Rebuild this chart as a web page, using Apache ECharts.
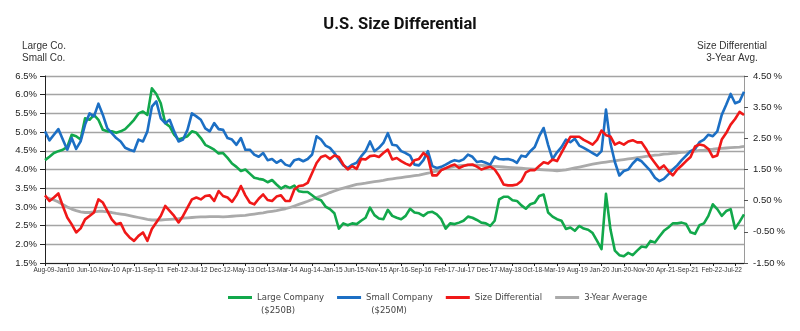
<!DOCTYPE html>
<html>
<head>
<meta charset="utf-8">
<script src="https://cdn.jsdelivr.net/npm/echarts@6/dist/echarts.min.js"></script>
<style>
  html, body { margin: 0; padding: 0; background: #fff; }
  #chart { width: 800px; height: 331px; }
</style>
</head>
<body>
<div id="chart"></div>
<script>
// Monthly observations, Aug-2009 through Sep-2022
const startYear = 2009;
const startMonth = 7; // August (0-based)
const monthCount = 158;

// Cost of equity, large companies ($250B), left axis (%)
const largeCompany = [
  4.25,4.34,4.44,4.49,4.53,4.6,4.93,4.89,4.8,5.37,5.33,5.46,5.33,5.06,5.02,5.02,4.98,5.02,5.08,5.2,
  5.33,5.5,5.55,5.46,6.17,6.02,5.77,5.24,5.15,4.93,4.8,4.84,4.89,5.02,4.98,4.84,4.66,4.6,4.53,4.43,
  4.44,4.31,4.16,4.07,3.96,4.0,3.89,3.78,3.75,3.73,3.66,3.72,3.6,3.49,3.56,3.51,3.57,3.42,3.4,3.4,
  3.31,3.22,3.18,3.01,2.94,2.83,2.42,2.56,2.51,2.56,2.54,2.63,2.71,2.98,2.78,2.69,2.67,2.92,2.76,
  2.71,2.67,2.76,2.95,2.85,2.83,2.76,2.85,2.87,2.8,2.67,2.42,2.56,2.54,2.58,2.63,2.74,2.71,2.65,2.58,
  2.56,2.49,2.63,3.2,3.27,3.27,3.18,3.16,3.04,2.95,3.07,3.11,3.29,3.33,2.85,2.74,2.67,2.63,2.41,
  2.45,2.36,2.49,2.42,2.39,2.3,2.09,1.87,3.35,2.4,1.83,1.71,1.68,1.77,1.71,1.83,1.94,1.92,2.09,2.05,
  2.21,2.36,2.45,2.56,2.56,2.58,2.54,2.32,2.28,2.51,2.56,2.76,3.07,2.94,2.76,2.89,2.94,2.42,2.6,2.8
];

// Cost of equity, small companies ($250M), left axis (%)
const smallCompany = [
  5.02,4.78,4.93,5.08,4.8,4.53,4.84,4.55,4.75,5.2,5.5,5.42,5.76,5.46,5.1,4.97,4.84,4.75,4.58,4.53,
  4.49,4.8,4.75,5.02,5.68,5.82,5.37,5.24,5.33,5.02,4.75,4.8,5.06,5.5,5.42,5.33,5.1,5.02,5.24,5.08,
  5.06,4.84,4.8,4.66,4.84,4.53,4.53,4.4,4.34,4.44,4.25,4.28,4.18,4.25,4.13,4.09,4.25,4.28,4.22,4.28,
  4.4,4.89,4.8,4.64,4.58,4.44,4.27,4.11,4.04,4.13,4.18,4.35,4.49,4.75,4.49,4.58,4.71,4.97,4.66,
  4.64,4.49,4.44,4.37,4.13,4.11,4.25,4.49,4.09,4.04,4.07,4.13,4.2,4.25,4.22,4.27,4.4,4.34,4.2,4.22,
  4.18,4.13,4.34,4.28,4.27,4.28,4.25,4.18,4.37,4.34,4.49,4.6,4.89,5.11,4.66,4.28,4.46,4.6,4.8,
  4.73,4.82,4.64,4.58,4.51,4.44,4.37,4.49,5.6,4.7,4.2,3.84,3.96,4.0,4.16,4.28,4.22,4.09,3.96,3.78,
  3.69,3.75,3.87,4.0,4.11,4.25,4.37,4.49,4.55,4.73,4.8,4.93,4.89,5.02,5.46,5.73,6.02,5.77,5.82,6.08
];

// Size differential (small minus large), right axis (%)
const sizeDifferential = [
  0.67,0.49,0.6,0.73,0.33,-0.04,-0.26,-0.52,-0.39,-0.1,0.01,0.12,0.54,0.44,0.17,-0.1,-0.26,-0.22,-0.52,-0.68,
  -0.79,-0.63,-0.52,-0.79,-0.41,-0.2,0.01,0.33,0.17,0.01,-0.2,0.01,0.28,0.54,0.6,0.54,0.65,0.67,0.49,0.81,
  0.65,0.6,0.46,0.67,0.97,0.67,0.44,0.38,0.56,0.7,0.52,0.49,0.63,0.67,0.49,0.49,0.86,0.97,0.99,1.07,
  1.39,1.71,1.9,1.95,1.84,1.95,1.9,1.66,1.5,1.61,1.52,1.84,1.82,1.93,1.95,1.9,2.03,2.14,1.82,
  1.87,1.77,1.69,1.63,1.8,1.84,2.03,1.9,1.31,1.31,1.48,1.54,1.61,1.66,1.55,1.61,1.65,1.66,1.59,1.5,
  1.55,1.59,1.5,1.29,1.02,0.99,0.99,1.02,1.13,1.41,1.48,1.48,1.61,1.73,1.69,1.82,1.77,2.03,2.3,
  2.55,2.55,2.55,2.45,2.38,2.3,2.45,2.75,2.6,2.56,2.3,2.37,2.3,2.4,2.44,2.37,2.37,2.16,1.9,1.71,
  1.52,1.63,1.45,1.31,1.5,1.63,1.77,1.9,2.24,2.3,2.27,2.16,1.9,1.95,2.46,2.67,2.94,3.12,3.35,3.25
];

// Trailing 3-year average of the size differential, right axis (%)
const threeYearAverage = [
  0.6,0.57,0.52,0.46,0.38,0.3,0.23,0.18,0.14,0.12,0.12,0.14,0.16,0.16,0.14,0.12,0.09,0.07,0.05,0.02,
  -0.01,-0.04,-0.07,-0.1,-0.12,-0.12,-0.12,-0.11,-0.1,-0.09,-0.08,-0.06,-0.05,-0.04,-0.03,-0.02,-0.02,-0.01,-0.01,-0.01,
  -0.02,-0.01,0.0,0.01,0.02,0.03,0.05,0.07,0.09,0.11,0.14,0.16,0.18,0.21,0.24,0.28,0.33,0.38,0.43,0.48,
  0.54,0.6,0.65,0.7,0.76,0.81,0.86,0.9,0.94,0.98,1.02,1.04,1.06,1.09,1.11,1.13,1.15,1.18,1.2,
  1.22,1.24,1.26,1.28,1.3,1.32,1.35,1.38,1.42,1.45,1.5,1.54,1.57,1.6,1.62,1.63,1.64,1.64,1.64,1.63,
  1.62,1.61,1.6,1.59,1.58,1.57,1.56,1.55,1.54,1.53,1.52,1.51,1.5,1.49,1.48,1.47,1.46,1.47,1.49,
  1.52,1.55,1.58,1.61,1.64,1.67,1.7,1.72,1.74,1.76,1.78,1.8,1.82,1.84,1.86,1.88,1.9,1.92,1.94,1.96,
  1.97,1.99,2.0,2.02,2.03,2.05,2.06,2.08,2.09,2.11,2.12,2.14,2.15,2.17,2.18,2.19,2.2,2.21,2.22,2.24
];

// Category-axis labels, one per ten months
const tickLabels = [
  'Aug-09-Jan10','Jun-10-Nov-10','Apr-11-Sep-11','Feb-12-Jul-12','Dec-12-May-13','Oct-13-Mar-14',
  'Aug-14-Jan-15','Jun-15-Nov-15','Apr-16-Sep-16','Feb-17-Jul-17','Dec-17-May-18','Oct-18-Mar-19',
  'Aug-19 Jan-20','Jun-20-Nov-20','Apr-21-Sep-21','Feb-22-Jul-22'
];
const leftTicks = [1.5,2.0,2.5,3.0,3.5,4.0,4.5,5.0,5.5,6.0,6.5];
const rightTicks = [-1.5,-0.5,0.5,1.5,2.5,3.5,4.5];

const seriesNames = ['Large Company','Small Company','Size Differential','3-Year Average'];
const seriesColors = ['#12a84b','#1c6fc4','#f01818','#aaaaaa'];

const monthAbbr = ['Jan','Feb','Mar','Apr','May','Jun','Jul','Aug','Sep','Oct','Nov','Dec'];
const months = [];
for (let i = 0; i < monthCount; i++) {
  const m = (startMonth + i) % 12;
  const y = startYear + Math.floor((startMonth + i) / 12);
  months.push(monthAbbr[m] + '-' + String(y % 100).padStart(2, '0'));
}

const chart = echarts.init(document.getElementById('chart'), null, { renderer: 'canvas' });
const baseFont = "'Liberation Sans', Arial, sans-serif";
const legendFont = "'DejaVu Sans', Verdana, sans-serif";

function lineSeries(idx, data, yAxisIndex, width, z) {
  return {
    name: seriesNames[idx],
    type: 'line',
    yAxisIndex: yAxisIndex,
    data: data,
    showSymbol: false,
    symbol: 'none',
    z: z,
    lineStyle: { color: seriesColors[idx], width: width, join: 'round' },
    itemStyle: { color: seriesColors[idx] },
    emphasis: { disabled: true }
  };
}

chart.setOption({
  animation: false,
  backgroundColor: '#ffffff',
  title: {
    text: 'U.S. Size Differential',
    left: 'center',
    top: 11,
    textStyle: {
      fontFamily: "Roboto, 'Open Sans', " + baseFont,
      fontWeight: 'bold', fontSize: 16.5, color: '#111'
    }
  },
  grid: { left: 45, right: 56, top: 76, bottom: 68, containLabel: false },
  legend: {
    data: seriesNames,
    left: 228,
    top: 293,
    padding: 0,
    icon: 'rect',
    itemWidth: 24,
    itemHeight: 3,
    itemGap: 13,
    selectedMode: false,
    textStyle: { fontFamily: legendFont, fontSize: 8.5, color: '#444' }
  },
  xAxis: {
    type: 'category',
    data: months,
    boundaryGap: false,
    axisLine: { onZero: false, lineStyle: { color: '#222', width: 1 } },
    axisTick: { interval: 4, length: 3, lineStyle: { color: '#222' } },
    axisLabel: {
      interval: function (index) { return index % 10 === 2; },
      formatter: function (value, index) { return tickLabels[(index - 2) / 10] || ''; },
      fontFamily: baseFont,
      fontSize: 6.5,
      color: '#333',
      margin: 4
    },
    splitLine: { show: false }
  },
  yAxis: [
    {
      type: 'value',
      min: 1.5,
      max: 6.5,
      interval: 0.5,
      position: 'left',
      axisLine: { show: true, onZero: false, lineStyle: { color: '#222', width: 1 } },
      axisTick: { show: true, length: 5, lineStyle: { color: '#222' }, customValues: leftTicks },
      axisLabel: {
        customValues: leftTicks,
        formatter: function (v) { return v.toFixed(1) + '%'; },
        fontFamily: baseFont, fontSize: 9.5, color: '#222', margin: 8
      },
      splitLine: { show: true, lineStyle: { color: '#a4a4a4', width: 1.4 } }
    },
    {
      type: 'value',
      min: -1.5,
      max: 4.5,
      interval: 0.5,
      position: 'right',
      axisLine: { show: true, onZero: false, lineStyle: { color: '#9a9a9a', width: 1 } },
      axisTick: { show: true, length: 4, lineStyle: { color: '#555' }, customValues: rightTicks },
      axisLabel: {
        customValues: rightTicks,
        formatter: function (v) { return v.toFixed(2) + '\u2009%'; },
        fontFamily: baseFont, fontSize: 9.5, color: '#222', margin: 9
      },
      splitLine: { show: false }
    }
  ],
  graphic: [
    {
      type: 'text', x: 22, y: 40,
      style: { text: 'Large Co.\nSmall Co.', font: "10px " + baseFont, lineHeight: 12, fill: '#333', textAlign: 'left' }
    },
    {
      type: 'text', x: 732, y: 40,
      style: { text: 'Size Differential\n3-Year Avg.', font: "10px " + baseFont, lineHeight: 12, fill: '#333', textAlign: 'center' }
    },
    {
      type: 'text', x: 278, y: 306,
      style: { text: '($250B)', font: "8.5px " + legendFont, fill: '#444', textAlign: 'center' }
    },
    {
      type: 'text', x: 389, y: 306,
      style: { text: '($250M)', font: "8.5px " + legendFont, fill: '#444', textAlign: 'center' }
    }
  ],
  series: [
    lineSeries(3, threeYearAverage, 1, 2.8, 2),
    lineSeries(0, largeCompany, 0, 2.6, 3),
    lineSeries(1, smallCompany, 0, 2.6, 4),
    lineSeries(2, sizeDifferential, 1, 2.6, 5)
  ]
});
</script>
</body>
</html>
